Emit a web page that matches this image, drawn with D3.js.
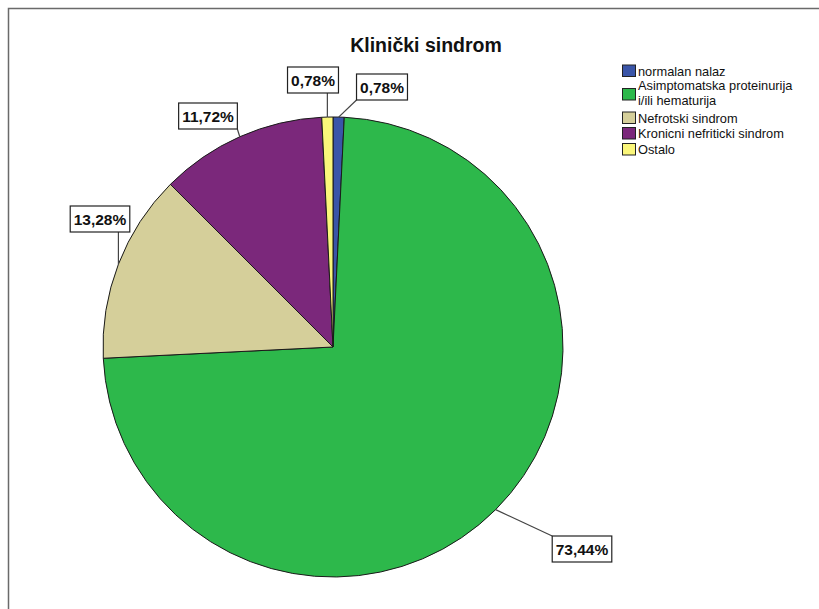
<!DOCTYPE html>
<html>
<head>
<meta charset="utf-8">
<script src="https://cdn.jsdelivr.net/npm/d3@7"></script>
<style>
  html, body { margin: 0; padding: 0; background: #fff; }
  svg { display: block; font-family: Arial, "Liberation Sans", sans-serif; }
</style>
</head>
<body>
<svg id="chart" width="819" height="609"></svg>
<script>
// ---- data ----
const categories = ["normalan nalaz", "Asimptomatska proteinurija i/ili hematurija", "Nefrotski sindrom", "Kronicni nefriticki sindrom", "Ostalo"];
const legendLines = [["normalan nalaz"], ["Asimptomatska proteinurija", "i/ili hematurija"], ["Nefrotski sindrom"], ["Kronicni nefriticki sindrom"], ["Ostalo"]];
const percents = [0.78, 73.44, 13.28, 11.72, 0.78];
const colors = ["#3A55A8", "#2DB84B", "#D5CF9A", "#7B287B", "#FAF67A"];
const title = "Klinički sindrom";

// ---- layout (not data) ----
const W = 819, H = 609;
const cx = 333, cy = 347, R = 230;
// label box centres (pixel layout)
const labelCenters = [[382, 87], [582, 549], [100, 219], [208, 116], [313, 80]];

const svg = d3.select("#chart");

// frame
svg.append("path")
  .attr("d", `M8.5,${H + 5} V8.5 H${W + 5}`)
  .attr("fill", "none").attr("stroke", "#6a6a6a").attr("stroke-width", 1.5);

// title
svg.append("text")
  .attr("x", 426).attr("y", 52)
  .attr("text-anchor", "middle")
  .attr("font-size", 19.5).attr("font-weight", "bold").attr("fill", "#111")
  .text(title);

// pie
const data = categories.map((c, i) => ({ name: c, value: percents[i], color: colors[i], idx: i }));
const pie = d3.pie().value(d => d.value).sort(null).startAngle(0).endAngle(2 * Math.PI);
const arcs = pie(data);
const arc = d3.arc().innerRadius(0).outerRadius(R);

const g = svg.append("g").attr("transform", `translate(${cx},${cy})`);
g.selectAll("path.slice")
  .data(arcs)
  .join("path")
  .attr("class", "slice")
  .attr("d", arc)
  .attr("fill", d => d.data.color)
  .attr("stroke", "#1a1a1a")
  .attr("stroke-width", 1);

// labels
const fmt = v => d3.format(".2f")(v).replace(".", ",") + "%";
const labelLayer = svg.append("g");
arcs.forEach((a, i) => {
  const mid = (a.startAngle + a.endAngle) / 2;
  const px = cx + R * Math.sin(mid);
  const py = cy - R * Math.cos(mid);
  const [bx, by] = labelCenters[i];
  const t = labelLayer.append("text")
    .attr("x", bx).attr("y", by + 5.5)
    .attr("text-anchor", "middle")
    .attr("font-size", 15.5).attr("font-weight", "bold").attr("fill", "#111")
    .text(fmt(a.data.value));
  const tw = t.node().getComputedTextLength();
  const bw = tw + 7, bh = 26;
  const x0 = bx - bw / 2, y0 = by - bh / 2;
  // leader line to the nearest point of the box
  const ex = Math.max(x0, Math.min(x0 + bw, px));
  const ey = Math.max(y0, Math.min(y0 + bh, py));
  labelLayer.insert("line", "text")
    .attr("x1", px).attr("y1", py).attr("x2", ex).attr("y2", ey)
    .attr("stroke", "#444").attr("stroke-width", 1.2);
  labelLayer.insert("rect", "text")
    .attr("x", x0).attr("y", y0).attr("width", bw).attr("height", bh)
    .attr("fill", "#fff").attr("stroke", "#222").attr("stroke-width", 1.2);
});

// legend
const legend = svg.append("g").attr("transform", "translate(622,0)");
const rowY = [70.5, 94, 117.5, 133, 149]; // centre of each swatch
legendLines.forEach((lines, i) => {
  const yc = rowY[i];
  legend.append("rect")
    .attr("x", 0.5).attr("y", yc - 5.5).attr("width", 13).attr("height", 11.5)
    .attr("fill", colors[i]).attr("stroke", "#222").attr("stroke-width", 1);
  const n = lines.length;
  lines.forEach((ln, j) => {
    const y = n === 1 ? yc + 5 : yc + 3.5 + (j - 0.5) * 14.4;
    legend.append("text")
      .attr("x", 16).attr("y", y)
      .attr("font-size", 12.8).attr("fill", "#111")
      .text(ln);
  });
});
</script>
</body>
</html>
